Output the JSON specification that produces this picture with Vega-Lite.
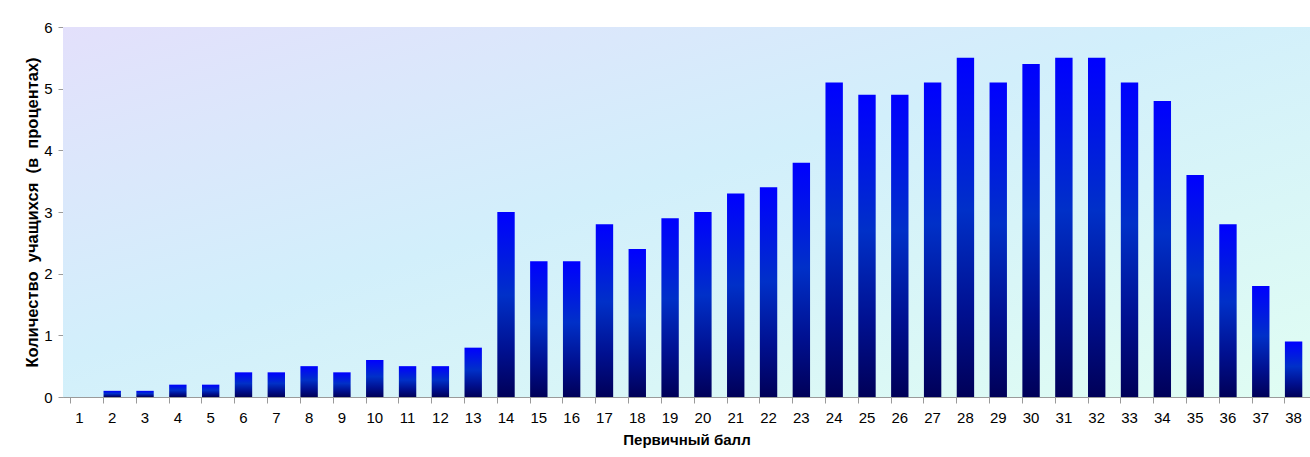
{
  "$schema": "https://vega.github.io/schema/vega-lite/v6.json",
  "autosize": "none",
  "width": 1247,
  "height": 370,
  "padding": {"left": 63, "top": 27, "right": 0, "bottom": 60},
  "background": "#ffffff",
  "config": {
    "view": {"stroke": null},
    "font": "Liberation Sans",
    "axis": {
      "labelFont": "Liberation Sans",
      "titleFont": "Liberation Sans",
      "labelColor": "#000000",
      "titleColor": "#000000",
      "labelFontSize": 15,
      "titleFontSize": 15,
      "titleFontWeight": "bold",
      "domainColor": "#9a9a9a",
      "tickColor": "#9a9a9a",
      "gridColor": "#9a9a9a"
    }
  },
  "layer": [
    {
      "data": {"values": [{"bg": 1}]},
      "mark": {
        "type": "rect",
        "fill": {
          "gradient": "linear",
          "x1": 0, "y1": 0, "x2": 1, "y2": 1,
          "stops": [
            {"offset": 0, "color": "#e3e0fb"},
            {"offset": 0.45, "color": "#d2effb"},
            {"offset": 1, "color": "#e0fdf3"}
          ]
        }
      },
      "encoding": {}
    },
    {
      "data": {
        "values": [
          {"ball": "1", "pct": 0},
          {"ball": "2", "pct": 0.1},
          {"ball": "3", "pct": 0.1},
          {"ball": "4", "pct": 0.2},
          {"ball": "5", "pct": 0.2},
          {"ball": "6", "pct": 0.4},
          {"ball": "7", "pct": 0.4},
          {"ball": "8", "pct": 0.5},
          {"ball": "9", "pct": 0.4},
          {"ball": "10", "pct": 0.6},
          {"ball": "11", "pct": 0.5},
          {"ball": "12", "pct": 0.5},
          {"ball": "13", "pct": 0.8},
          {"ball": "14", "pct": 3.0},
          {"ball": "15", "pct": 2.2},
          {"ball": "16", "pct": 2.2},
          {"ball": "17", "pct": 2.8},
          {"ball": "18", "pct": 2.4},
          {"ball": "19", "pct": 2.9},
          {"ball": "20", "pct": 3.0},
          {"ball": "21", "pct": 3.3},
          {"ball": "22", "pct": 3.4},
          {"ball": "23", "pct": 3.8},
          {"ball": "24", "pct": 5.1},
          {"ball": "25", "pct": 4.9},
          {"ball": "26", "pct": 4.9},
          {"ball": "27", "pct": 5.1},
          {"ball": "28", "pct": 5.5},
          {"ball": "29", "pct": 5.1},
          {"ball": "30", "pct": 5.4},
          {"ball": "31", "pct": 5.5},
          {"ball": "32", "pct": 5.5},
          {"ball": "33", "pct": 5.1},
          {"ball": "34", "pct": 4.8},
          {"ball": "35", "pct": 3.6},
          {"ball": "36", "pct": 2.8},
          {"ball": "37", "pct": 1.8},
          {"ball": "38", "pct": 0.9}
        ]
      },
      "mark": {
        "type": "bar",
        "fill": {
          "gradient": "linear",
          "x1": 0, "y1": 0, "x2": 0, "y2": 1,
          "stops": [
            {"offset": 0, "color": "#0000ff"},
            {"offset": 0.45, "color": "#0030c8"},
            {"offset": 0.75, "color": "#001090"},
            {"offset": 1, "color": "#000058"}
          ]
        }
      },
      "encoding": {
        "x": {
          "field": "ball",
          "type": "ordinal",
          "sort": null,
          "scale": {"paddingInner": 0.47, "paddingOuter": 0.235},
          "axis": {
            "title": "Первичный балл",
            "labelAngle": 0,
            "bandPosition": 0,
            "tickSize": 6,
            "labelPadding": 7,
            "titlePadding": 7,
            "grid": false
          }
        },
        "y": {
          "field": "pct",
          "type": "quantitative",
          "scale": {"domain": [0, 6], "nice": false},
          "axis": {
            "title": "Количество\u00a0 учащихся\u00a0 (в\u00a0 процентах)",
            "titleFontSize": 16.5,
            "values": [0, 1, 2, 3, 4, 5, 6],
            "tickSize": 5,
            "labelPadding": 6,
            "titlePadding": 3,
            "grid": true
          }
        }
      }
    }
  ]
}
